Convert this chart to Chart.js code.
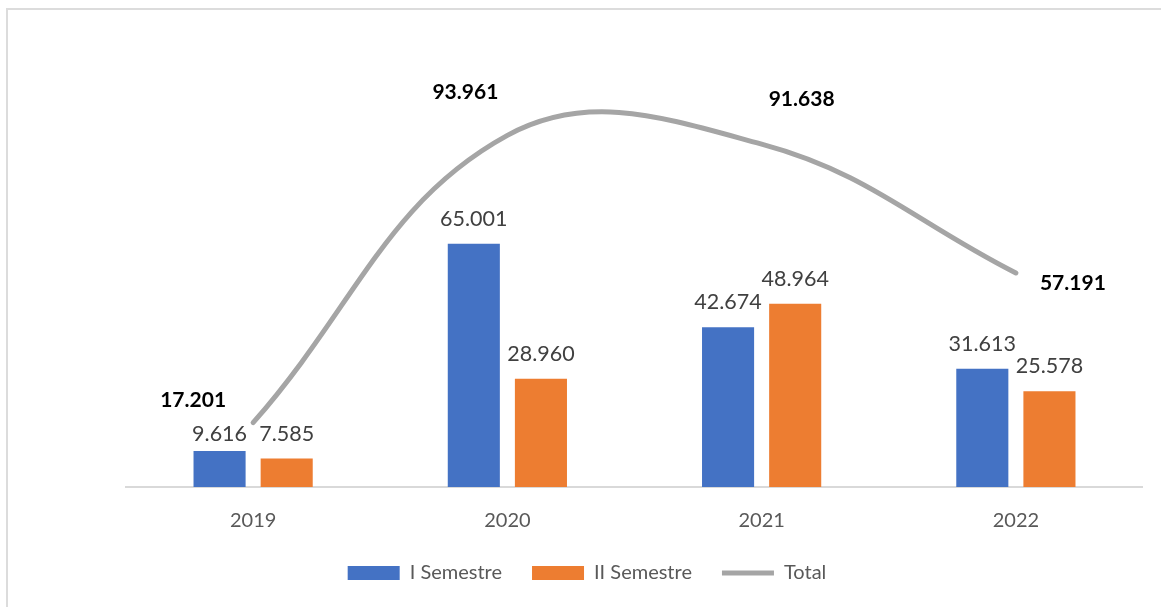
<!DOCTYPE html>
<html>
<head>
<meta charset="utf-8">
<script src="https://cdn.jsdelivr.net/npm/chart.js@4.4.1/dist/chart.umd.min.js"></script>
<style>
    html, body { margin: 0; padding: 0; background: #fff; }
    #frame {
        position: absolute; left: 6px; top: 8px; width: 1200px; height: 700px;
        border-left: 2px solid #dcdcdc; border-top: 2px solid #dcdcdc;
    }
    #wrap { position: absolute; left: 0; top: 0; width: 1143px; height: 607px; }
</style>
</head>
<body>
<div id="frame"></div>
<div id="wrap"><canvas id="chart"></canvas></div>
<script>
const years = ["2019", "2020", "2021", "2022"];
const semestre1 = [9.616, 65.001, 42.674, 31.613];
const semestre2 = [7.585, 28.960, 48.964, 25.578];
const total = [17.201, 93.961, 91.638, 57.191];

function fmt(v) {
    return v.toFixed(3);
}

// draws the value labels (Excel style)
const valueLabels = {
    id: "valueLabels",
    afterDatasetsDraw(chart) {
        const ctx = chart.ctx;
        ctx.save();
        ctx.textAlign = "center";
        ctx.textBaseline = "middle";
        [0, 1].forEach(function (di) {
            let meta = chart.getDatasetMeta(di);
            let values = chart.data.datasets[di].data;
            ctx.font = "21.5px Lato";
            ctx.fillStyle = "#404040";
            meta.data.forEach(function (bar, i) {
                let lift = (di == 0 && i == 0) ? 17 : 25;
                ctx.fillText(fmt(values[i]), bar.x, bar.y - lift);
            });
        });
        // total labels sit beside the line points
        const shift = [[-60, -22], [-42, -43], [40, -45], [57, 10]];
        let meta = chart.getDatasetMeta(2);
        ctx.font = "bold 21px Lato";
        ctx.fillStyle = "#000";
        meta.data.forEach(function (pt, i) {
            ctx.fillText(fmt(total[i]), pt.x + shift[i][0], pt.y + shift[i][1]);
        });
        ctx.restore();
    },
};

new Chart(document.getElementById("chart"), {
    data: {
        labels: years,
        datasets: [
            {
                type: "bar",
                label: "I Semestre",
                data: semestre1,
                backgroundColor: "#4472C4",
                borderWidth: 0,
                pointStyle: "rect",
                order: 1,
            },
            {
                type: "bar",
                label: "II Semestre",
                data: semestre2,
                backgroundColor: "#ED7D31",
                borderWidth: 0,
                pointStyle: "rect",
                order: 1,
            },
            {
                type: "line",
                label: "Total",
                data: total,
                borderColor: "#A5A5A5",
                backgroundColor: "#A5A5A5",
                borderWidth: 5,
                borderCapStyle: "round",
                tension: 0.4,
                pointRadius: 0,
                pointStyle: "line",
                order: 0,
            },
        ],
    },
    options: {
        responsive: true,
        maintainAspectRatio: false,
        animation: false,
        layout: { padding: { left: 31, right: 0, top: 38, bottom: 14 } },
        datasets: {
            bar: { categoryPercentage: 0.528, barPercentage: 0.776 },
        },
        scales: {
            x: {
                grid: { display: false, drawTicks: false },
                border: { display: true, color: "#d9d9d9", width: 2 },
                ticks: {
                    padding: 22,
                    color: "#595959",
                    font: { family: "Lato", size: 20 },
                },
                afterFit: function (scale) {
                    scale.height = scale.height - 22;
                },
            },
            y: {
                min: 0,
                max: 120,
                grid: { display: false, drawTicks: false },
                border: { display: false },
                ticks: { display: false },
                afterFit: function (scale) {
                    scale.width = 95;
                },
            },
        },
        plugins: {
            legend: {
                position: "bottom",
                labels: {
                    usePointStyle: true,
                    pointStyleWidth: 52,
                    boxHeight: 14,
                    padding: 30,
                    color: "#595959",
                    font: { family: "Lato", size: 20 },
                    sort: (a, b) => a.datasetIndex - b.datasetIndex,
                },
            },
            tooltip: { enabled: false },
        },
    },
    plugins: [valueLabels],
});
</script>
</body>
</html>
